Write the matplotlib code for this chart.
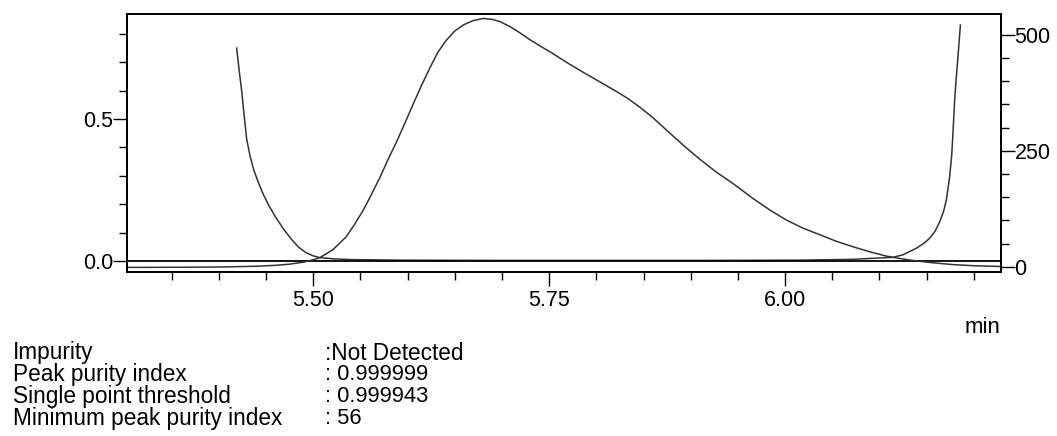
import matplotlib
matplotlib.use('Agg')
from matplotlib import pyplot as plt
from matplotlib.ticker import MultipleLocator, FormatStrFormatter

# chromatogram (right axis, mAU)
chrom_t = [5.3026, 5.340, 5.380, 5.410, 5.440, 5.460, 5.475, 5.490, 5.500, 5.507,
           5.521, 5.535, 5.544, 5.553, 5.562, 5.571, 5.579, 5.588, 5.597, 5.606,
           5.615, 5.624, 5.632, 5.641, 5.650, 5.659, 5.669, 5.680, 5.690, 5.698,
           5.708, 5.719, 5.729, 5.740, 5.751, 5.768, 5.786, 5.804, 5.821, 5.833,
           5.846, 5.860, 5.874, 5.892, 5.910, 5.927, 5.945, 5.966, 5.984, 6.001,
           6.019, 6.038, 6.054, 6.072, 6.090, 6.107, 6.118, 6.130, 6.143, 6.159,
           6.178, 6.201, 6.2285]
chrom_v = [-1.5, -1.3, -1.0, -0.3, 1.0, 3.0, 5.5, 10.0, 15.0, 19.5,
           37.0, 64.7, 92.0, 122.0, 157.0, 194.0, 230.0, 268.0, 309.0, 351.0,
           392.0, 430.0, 462.0, 488.0, 508.0, 521.0, 530.0, 535.0, 533.0, 528.0,
           518.0, 504.0, 490.0, 476.0, 463.0, 441.0, 419.0, 398.0, 378.0, 363.0,
           344.0, 321.0, 295.0, 262.0, 231.0, 204.0, 179.0, 147.0, 122.0, 101.0,
           83.0, 68.0, 55.0, 43.0, 32.0, 23.0, 19.0, 15.0, 11.5, 8.0,
           4.5, 2.0, 0.5]

# purity curve (left axis)
pur_t = [5.4188, 5.4215, 5.4241, 5.4268, 5.4294, 5.4330, 5.4370, 5.4420, 5.4470,
         5.4530, 5.4600, 5.4680, 5.4760, 5.4840, 5.4920, 5.5000, 5.5070, 5.5200,
         5.5400, 5.5900, 5.7000, 5.8000, 5.9100, 6.0150, 6.0720, 6.1144, 6.1250,
         6.1391, 6.1470, 6.1532, 6.1590, 6.1638, 6.1680, 6.1709, 6.1744, 6.1765,
         6.1779, 6.1797, 6.1815, 6.1832, 6.1858]
pur_v = [0.750, 0.670, 0.600, 0.510, 0.430, 0.370, 0.320, 0.275, 0.235,
         0.195, 0.155, 0.115, 0.080, 0.050, 0.030, 0.018, 0.012, 0.008,
         0.005, 0.003, 0.002, 0.002, 0.002, 0.003, 0.006, 0.013, 0.022,
         0.045, 0.062, 0.080, 0.105, 0.138, 0.175, 0.215, 0.297, 0.370,
         0.450, 0.567, 0.650, 0.719, 0.831]

info_labels = ['Impurity', 'Peak purity index', 'Single point threshold',
               'Minimum peak purity index']
info_values = [':Not Detected', ': 0.999999', ': 0.999943', ': 56']

plt.rcParams['font.family'] = ['Liberation Sans', 'DejaVu Sans']
W, H = 1057, 436
fig = plt.figure(figsize=(W / 100, H / 100), dpi=100)
ax = fig.add_axes([127 / W, 1 - 272 / H, (1000.7 - 127) / W, (272 - 14) / H])
ax2 = ax.twinx()

lc = '#333333'
ax.plot(pur_t, pur_v, color=lc, lw=1.1)
ax.axhline(0, color='black', lw=1.3)
ax2.plot(chrom_t, chrom_v, color=lc, lw=1.1)

ax.set_xlim(5.3026, 6.2285)
ax.set_ylim(-0.0387, 0.870)
ax2.set_ylim(-11.4, 544.6)

ax.xaxis.set_major_locator(MultipleLocator(0.25))
ax.xaxis.set_minor_locator(MultipleLocator(0.05))
ax.xaxis.set_major_formatter(FormatStrFormatter('%.2f'))
ax.yaxis.set_major_locator(MultipleLocator(0.5))
ax.yaxis.set_minor_locator(MultipleLocator(0.1))
ax.yaxis.set_major_formatter(FormatStrFormatter('%.1f'))
ax2.yaxis.set_major_locator(MultipleLocator(250))
ax2.yaxis.set_minor_locator(MultipleLocator(50))

fs = 15.5
for a in (ax, ax2):
    for s in a.spines.values():
        s.set_linewidth(1.3)
    a.tick_params(which='major', direction='out', length=10, width=1.0, labelsize=fs)
    a.tick_params(which='minor', direction='out', length=6, width=1.0)
ax.tick_params(axis='y', pad=0)
ax.tick_params(axis='x', pad=3)
ax2.tick_params(axis='y', pad=0)

fig.text(1000 / W, 1 - 327 / H, 'min', ha='right', va='center', fontsize=16)

# info block under the chart
rows_y = [353, 374.7, 396, 418]
for lab, val, yy in zip(info_labels, info_values, rows_y):
    fig.text(13 / W, 1 - yy / H, lab, ha='left', va='center', fontsize=16.3)
    vfs = 16.3 if val.startswith(':N') else 15.8
    fig.text(325 / W, 1 - yy / H, val, ha='left', va='center', fontsize=vfs)

fig.savefig('out.png', dpi=100)
